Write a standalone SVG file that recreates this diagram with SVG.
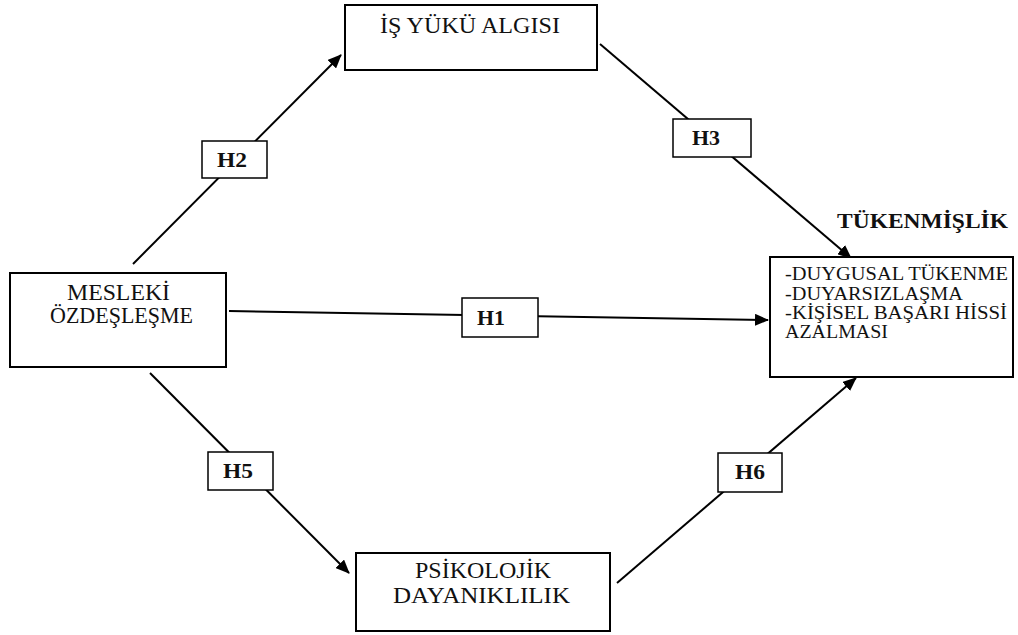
<svg xmlns="http://www.w3.org/2000/svg" width="1018" height="635" viewBox="0 0 1018 635">
<style>
.box{fill:#fff;stroke:#000;stroke-width:2}
.hbox{fill:#fff;stroke:#000;stroke-width:1.5}
.t{font-family:"Liberation Serif","Times New Roman",serif;fill:#111;font-size:23px}
.b{font-family:"Liberation Serif","Times New Roman",serif;fill:#111;font-weight:bold;font-size:22px}
.l{font-family:"Liberation Serif","Times New Roman",serif;fill:#111;font-size:19px}
.c{stroke:#000;stroke-width:2;fill:none;marker-end:url(#ah)}
</style>
<defs>
<marker id="ah" markerUnits="userSpaceOnUse" markerWidth="14" markerHeight="12" viewBox="0 0 14 12" refX="13" refY="6" orient="auto">
<path d="M0,0 L14,6 L0,12 Z" fill="#000"/>
</marker>
</defs>
<rect width="1018" height="635" fill="#fff"/>
<g id="connectors">
<line class="c" x1="133" y1="264" x2="341" y2="55"/>
<line class="c" x1="600" y1="44" x2="851" y2="258"/>
<line class="c" x1="229" y1="311" x2="768" y2="320"/>
<line class="c" x1="150" y1="373" x2="349" y2="573"/>
<line class="c" x1="617" y1="583" x2="856" y2="378"/>
</g>
<g id="is-yuku">
<rect class="box" x="345" y="5" width="252" height="65"/>
<text class="t" x="380" y="33" textLength="180" lengthAdjust="spacingAndGlyphs">İŞ YÜKÜ ALGISI</text>
</g>
<g id="mesleki">
<rect class="box" x="10" y="273" width="216" height="94"/>
<text class="t" x="67" y="300" textLength="103" lengthAdjust="spacingAndGlyphs">MESLEKİ</text>
<text class="t" x="50" y="323" textLength="143" lengthAdjust="spacingAndGlyphs">ÖZDEŞLEŞME</text>
</g>
<g id="tukenmislik">
<text class="b" x="837" y="228" textLength="171" lengthAdjust="spacingAndGlyphs">TÜKENMİŞLİK</text>
<rect class="box" x="770" y="257" width="243" height="120"/>
<text class="l" x="785" y="280" textLength="223" lengthAdjust="spacingAndGlyphs">-DUYGUSAL TÜKENME</text>
<text class="l" x="785" y="300" textLength="178" lengthAdjust="spacingAndGlyphs">-DUYARSIZLAŞMA</text>
<text class="l" x="785" y="319" textLength="222" lengthAdjust="spacingAndGlyphs">-KİŞİSEL BAŞARI HİSSİ</text>
<text class="l" x="785" y="338" textLength="103" lengthAdjust="spacingAndGlyphs">AZALMASI</text>
</g>
<g id="psikolojik">
<rect class="box" x="356" y="553" width="254" height="78"/>
<text class="t" x="415" y="578" textLength="136" lengthAdjust="spacingAndGlyphs">PSİKOLOJİK</text>
<text class="t" x="393" y="603" textLength="177" lengthAdjust="spacingAndGlyphs">DAYANIKLILIK</text>
</g>
<g id="h2">
<rect class="hbox" x="202" y="141" width="65" height="37"/>
<text class="b" x="217" y="167" textLength="30" lengthAdjust="spacingAndGlyphs">H2</text>
</g>
<g id="h3">
<rect class="hbox" x="673" y="119" width="78" height="38"/>
<text class="b" x="692" y="145" textLength="28" lengthAdjust="spacingAndGlyphs">H3</text>
</g>
<g id="h1">
<rect class="hbox" x="462" y="298" width="76" height="39"/>
<text class="b" x="477" y="325" textLength="28" lengthAdjust="spacingAndGlyphs">H1</text>
</g>
<g id="h5">
<rect class="hbox" x="208" y="452" width="65" height="38"/>
<text class="b" x="223" y="478" textLength="30" lengthAdjust="spacingAndGlyphs">H5</text>
</g>
<g id="h6">
<rect class="hbox" x="718" y="453" width="64" height="39"/>
<text class="b" x="735" y="479" textLength="30" lengthAdjust="spacingAndGlyphs">H6</text>
</g>
</svg>
